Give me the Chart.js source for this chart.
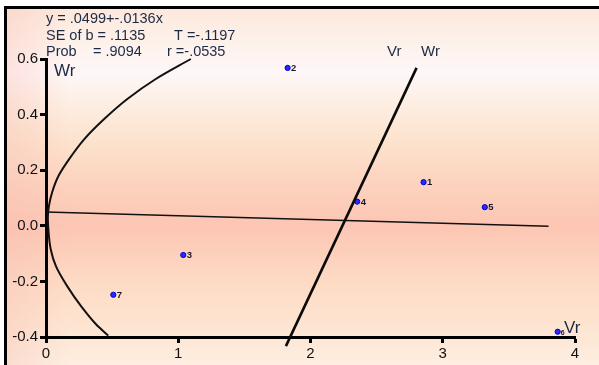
<!DOCTYPE html>
<html>
<head>
<meta charset="utf-8">
<script src="https://cdn.jsdelivr.net/npm/chart.js@4/dist/chart.umd.min.js"></script>
<style>
  html, body { margin: 0; padding: 0; background: #ffffff; }
  #wrap { width: 599px; height: 365px; }
</style>
</head>
<body>
<div id="wrap"><canvas id="c" width="599" height="365"></canvas></div>
<script>
// Observations: Vr (x) against Wr (y), numbered 1..7
const obsIds = ['1', '2', '3', '4', '5', '6', '7'];
const obsVr  = [2.855, 1.827, 1.038, 2.353, 3.318, 3.869, 0.509];
const obsWr  = [0.157, 0.568, -0.105, 0.087, 0.067, -0.381, -0.248];

// Least-squares fit y = a + b x
const fitIntercept = 0.0499;
const fitSlope = -0.0136;
const fitRangeVr = [0, 3.8];

// Steep axis line labelled "Vr Wr"
const axisLineVr = [1.814, 2.802];
const axisLineWr = [-0.433, 0.568];

// Left-hand curved envelope (x as a function of y, bottom to top)
const curveWr = [-0.395, -0.355, -0.289, -0.217, -0.145, -0.085, 0.000, 0.030, 0.071, 0.120, 0.180, 0.240, 0.312, 0.384, 0.456, 0.528, 0.600];
const curveVr = [0.471, 0.380, 0.265, 0.160, 0.075, 0.036, 0.016, 0.014, 0.022, 0.046, 0.095, 0.175, 0.290, 0.440, 0.615, 0.830, 1.095];

// Axis ticks
const xTickValues = [0, 1, 2, 3, 4];
const yTickValues = [-0.4, -0.2, 0.0, 0.2, 0.4, 0.6];

// Summary statistics shown in the header
const statLines = [
  [['y = .0499+-.0136x', 0]],
  [['SE of b = .1135', 0], ['T =-.1197', 128]],
  [['Prob', 0], ['= .9094', 47], ['r =-.0535', 121]]
];

const toXY = (xs, ys) => xs.map((x, i) => ({ x: x, y: ys[i] }));

const backgroundPlugin = {
  id: 'paper',
  beforeDraw(chart) {
    const ctx = chart.ctx;
    const W = chart.width, H = chart.height;
    ctx.save();
    ctx.fillStyle = '#ffffff';
    ctx.fillRect(0, 0, W, H);
    const g = ctx.createLinearGradient(0, 8, 0, H);
    g.addColorStop(0.00, '#fde8dc');
    g.addColorStop(0.08, '#fdf0e8');
    g.addColorStop(0.18, '#fef7f8');
    g.addColorStop(0.26, '#fdefe4');
    g.addColorStop(0.38, '#fce2cc');
    g.addColorStop(0.50, '#fcd2be');
    g.addColorStop(0.61, '#fcc6b3');
    g.addColorStop(0.78, '#fddcc6');
    g.addColorStop(0.93, '#fde8d6');
    g.addColorStop(1.00, '#fdeee2');
    ctx.fillStyle = g;
    ctx.fillRect(6, 8, W - 6, H - 8);
    // pinker tint toward the left edge
    const h = ctx.createLinearGradient(6, 0, 70, 0);
    h.addColorStop(0, 'rgba(248,188,178,0.35)');
    h.addColorStop(1, 'rgba(248,188,178,0)');
    ctx.fillStyle = h;
    ctx.fillRect(6, 8, 64, H - 8);
    ctx.restore();
  },
  afterDraw(chart) {
    const ctx = chart.ctx;
    ctx.save();
    ctx.strokeStyle = '#000';
    ctx.lineWidth = 3;
    ctx.beginPath();
    ctx.moveTo(5.5, chart.height);
    ctx.lineTo(5.5, 7.5);
    ctx.lineTo(chart.width, 7.5);
    ctx.stroke();
    ctx.restore();
  }
};

const annotatePlugin = {
  id: 'annotate',
  afterDatasetsDraw(chart) {
    const ctx = chart.ctx;
    const xs = chart.scales.x, ys = chart.scales.y;
    ctx.save();
    // observation numbers
    ctx.fillStyle = '#1a1a2a';
    ctx.textBaseline = 'middle';
    ctx.textAlign = 'left';
    obsIds.forEach((id, i) => {
      const px = xs.getPixelForValue(obsVr[i]);
      const py = ys.getPixelForValue(obsWr[i]);
      if (id === '6') {
        ctx.font = 'bold 7px "Liberation Sans", Arial, sans-serif';
        ctx.fillText(id, px + 3, py + 1.5);
      } else {
        ctx.font = 'bold 9.5px "Liberation Sans", Arial, sans-serif';
        ctx.fillText(id, px + 3.5, py + 0.5);
      }
    });
    // header statistics
    ctx.font = '14.5px "Liberation Sans", Arial, sans-serif';
    ctx.fillStyle = '#1c2a44';
    const lineY = [19, 35.5, 52];
    statLines.forEach((parts, r) => {
      parts.forEach(([txt, dx]) => ctx.fillText(txt, 46 + dx, lineY[r]));
    });
    // axis names
    ctx.font = '17px "Liberation Sans", Arial, sans-serif';
    ctx.fillText('Wr', 54, 71);
    ctx.fillText('Vr', 564, 328);
    ctx.font = '15px "Liberation Sans", Arial, sans-serif';
    ctx.fillText('Vr', 387, 51.5);
    ctx.fillText('Wr', 421, 51.5);
    ctx.restore();
  }
};

const fitY = fitRangeVr.map(x => fitIntercept + fitSlope * x);

new Chart(document.getElementById('c'), {
  type: 'scatter',
  data: {
    datasets: [
      {
        type: 'line',
        label: 'curve',
        indexAxis: 'y',
        data: toXY(curveVr, curveWr),
        cubicInterpolationMode: 'monotone',
        fill: false,
        borderColor: '#111',
        borderWidth: 2,
        pointRadius: 0,
        clip: false
      },
      {
        label: 'fit',
        data: toXY(fitRangeVr, fitY),
        showLine: true,
        borderColor: '#111',
        borderWidth: 1.5,
        pointRadius: 0
      },
      {
        label: 'axis line',
        data: toXY(axisLineVr, axisLineWr),
        showLine: true,
        borderColor: '#0a0a0a',
        borderWidth: 2.6,
        pointRadius: 0,
        clip: false
      },
      {
        label: 'observations',
        data: toXY(obsVr, obsWr),
        showLine: false,
        pointRadius: 2.6,
        pointBackgroundColor: '#2a2aff',
        pointBorderColor: '#0000c8',
        pointBorderWidth: 1,
        clip: false
      }
    ]
  },
  options: {
    responsive: false,
    animation: false,
    devicePixelRatio: 1,
    layout: { padding: { top: 59, right: 24, left: 0, bottom: 0 } },
    plugins: { legend: { display: false }, tooltip: { enabled: false } },
    scales: {
      x: {
        type: 'linear',
        min: 0, max: 4,
        afterFit(s) { s.height = 28; },
        afterBuildTicks(s) { s.ticks = xTickValues.map(v => ({ value: v })); },
        border: { display: true, color: '#000', width: 3 },
        grid: { display: true, drawOnChartArea: false, drawTicks: true, tickLength: 6, tickWidth: 3, tickColor: '#000' },
        ticks: {
          color: '#111',
          padding: 2,
          font: { family: '"Liberation Sans", Arial, sans-serif', size: 15 },
          callback: v => String(v)
        }
      },
      y: {
        type: 'linear',
        min: -0.4, max: 0.6,
        afterFit(s) { s.width = 46; },
        afterBuildTicks(s) { s.ticks = yTickValues.map(v => ({ value: v })); },
        border: { display: true, color: '#000', width: 3 },
        grid: { display: true, drawOnChartArea: false, drawTicks: true, tickLength: 6, tickWidth: 3, tickColor: '#000' },
        ticks: {
          color: '#111',
          padding: 2,
          font: { family: '"Liberation Sans", Arial, sans-serif', size: 15 },
          callback: v => Number(v).toFixed(1)
        }
      }
    }
  },
  plugins: [backgroundPlugin, annotatePlugin]
});
</script>
</body>
</html>
